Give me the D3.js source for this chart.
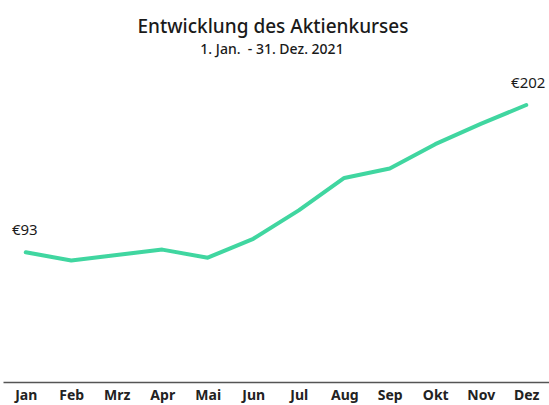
<!DOCTYPE html>
<html lang="de">
<head>
<meta charset="utf-8">
<script src="https://cdn.jsdelivr.net/npm/d3@7"></script>
<style>
  body { margin: 0; background: #fff; }
  svg text { font-family: "Noto Sans", sans-serif; fill: #1a1a1a; }
  .axis path { stroke: #555; stroke-width: 1.5; }
  .axis text { font-weight: bold; font-size: 14px; }
</style>
</head>
<body>
<svg id="chart" width="549" height="405"></svg>
<script>
// Monatswerte des Kurses (in Euro)
const months = ["Jan", "Feb", "Mrz", "Apr", "Mai", "Jun", "Jul", "Aug", "Sep", "Okt", "Nov", "Dez"]
const prices = [93, 87, 91, 95, 89, 103, 124, 148, 155, 173, 188, 202]

const svg = d3.select("#chart")

const x = d3.scalePoint().domain(months).range([3, 549]).padding(0.5)
const y = d3.scaleLinear().domain([0, 202]).range([378, 105])

svg.append("text")
  .attr("x", 273).attr("y", 33)
  .attr("text-anchor", "middle")
  .style("font-size", "19px")
  .style("font-weight", "500")
  .text("Entwicklung des Aktienkurses")

svg.append("text")
  .attr("x", 272).attr("y", 54)
  .attr("text-anchor", "middle")
  .style("font-size", "14px")
  .style("font-weight", "500")
  .style("white-space", "pre")
  .text("1. Jan.  - 31. Dez. 2021")

svg.append("g")
  .attr("class", "axis")
  .attr("transform", "translate(0,382)")
  .call(d3.axisBottom(x).tickSize(0).tickSizeOuter(0).tickPadding(8))
  .call(g => g.selectAll("text").style("font-family", "'Noto Sans', sans-serif").style("fill", "#222"))

const line = d3.line()
  .x((d, i) => x(months[i]))
  .y(d => y(d))

svg.append("path")
  .datum(prices)
  .attr("fill", "none")
  .attr("stroke", "#40d6a0")
  .attr("stroke-width", 4)
  .attr("stroke-linejoin", "round")
  .attr("stroke-linecap", "round")
  .attr("d", line)

// Beschriftung erster und letzter Wert
svg.append("text")
  .attr("x", x(months[0]) - 1).attr("y", y(prices[0]) - 17)
  .attr("text-anchor", "middle")
  .style("font-size", "15px")
  .text("€" + prices[0])

svg.append("text")
  .attr("x", x(months[11]) + 2).attr("y", y(prices[11]) - 17)
  .attr("text-anchor", "middle")
  .style("font-size", "15px")
  .text("€" + prices[11])
</script>
</body>
</html>
